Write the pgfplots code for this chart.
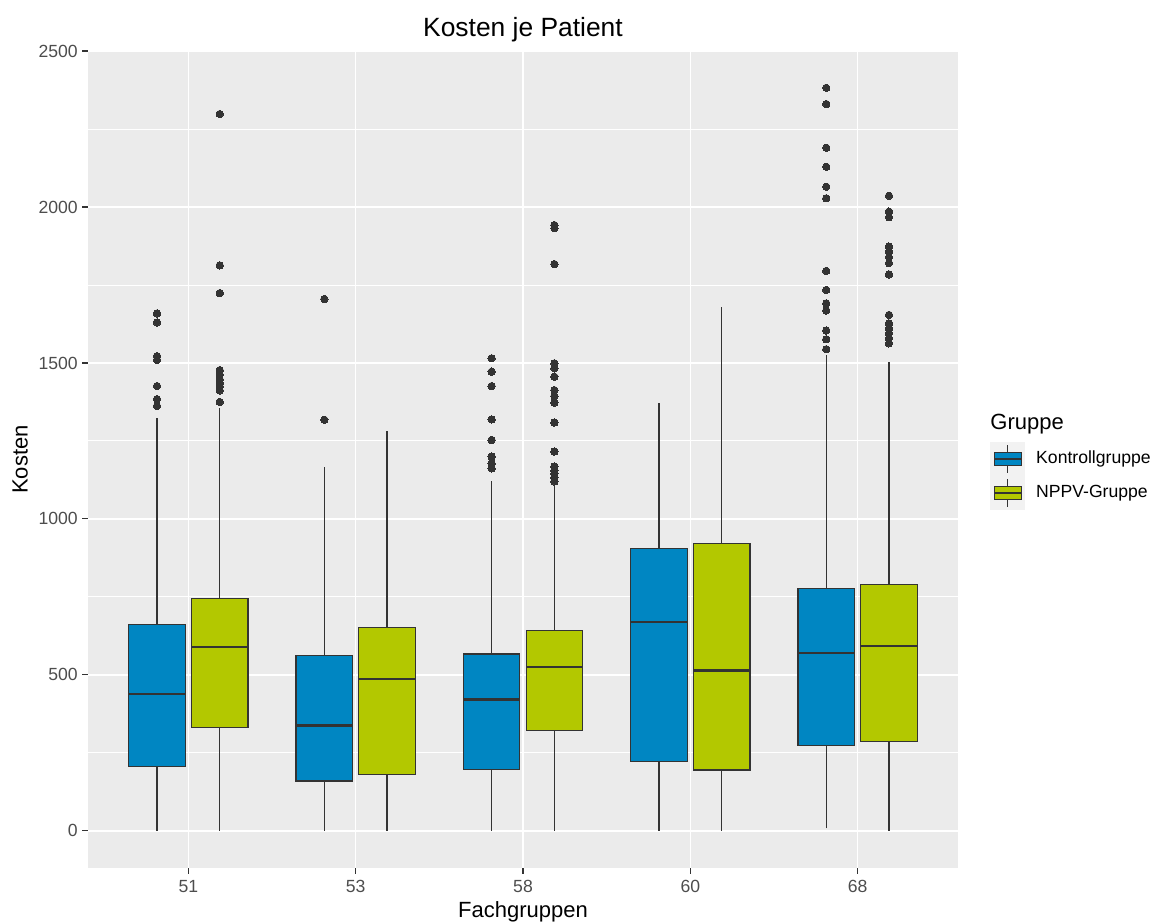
\documentclass[border=0pt]{standalone}
\usepackage{pgfplots}
\pgfplotsset{compat=1.18}
\usepackage{fontspec}
\setmainfont{Liberation Sans}
\definecolor{kblue}{RGB}{0,134,194}
\definecolor{nlime}{RGB}{179,200,0}
\definecolor{panelbg}{RGB}{235,235,235}
\definecolor{keybg}{RGB}{242,242,242}
\definecolor{c20}{RGB}{51,51,51}
\definecolor{c30}{RGB}{77,77,77}
\pgfplotsset{
  whisk/.style={c20, line width=0.6pt, no marks},
  boxK/.style={fill=kblue, draw=c20, line width=0.6pt, line cap=rect, line join=miter, no marks},
  boxN/.style={fill=nlime, draw=c20, line width=0.6pt, line cap=rect, line join=miter, no marks},
  med/.style={c20, line width=1.3pt, no marks},
  outl/.style={only marks, mark=*, mark size=1.85pt, mark options={fill=c20, draw=c20, line width=0pt}},
}
\begin{document}
\begin{tikzpicture}
\useasboundingbox (-44pt,-27.5pt) rectangle (533.5pt,434pt);
\begin{axis}[
  at={(0pt,0pt)}, anchor=south west,
  scale only axis, width=435pt, height=408.5pt,
  xmin=0.4, xmax=5.6, ymin=-119, ymax=2500,
  axis background/.style={fill=panelbg},
  axis line style={draw=none},
  xtick={1,2,3,4,5}, xticklabels={51,53,58,60,68},
  ytick={0,500,1000,1500,2000,2500},
  minor ytick={250,750,1250,1750,2250},
  xmajorgrids, ymajorgrids, yminorgrids,
  major grid style={white, line width=0.75pt},
  minor grid style={white, line width=0.45pt},
  tick align=outside, major tick length=2.75pt, minor tick length=0pt,
  xtick pos=bottom, ytick pos=left,
  every tick/.style={c20, line width=0.55pt},
  tick label style={font=\fontsize{8.8}{10}\selectfont, text=c30},
  yticklabel style={inner sep=0pt, xshift=-2.2pt},
  xticklabel style={inner sep=0pt, yshift=-3pt},
  /pgf/number format/assume math mode=true,
  /pgf/number format/1000 sep={},
  title={Kosten je Patient},
  every axis title/.style={at={(axis description cs:0.5,1.026)}, anchor=center, font=\fontsize{13.2}{15}\selectfont, inner sep=0pt},
  xlabel={Fachgruppen},
  ylabel={Kosten},
  every axis x label/.style={at={(axis description cs:0.5,-0.054)}, anchor=center, font=\fontsize{11}{13}\selectfont, inner sep=0pt},
  every axis y label/.style={at={(axis description cs:-0.078,0.5)}, rotate=90, anchor=center, font=\fontsize{11}{13}\selectfont, inner sep=0pt},
  legend style={at={(axis description cs:1.0368,0.5215)}, anchor=north west, draw=none, fill=none,
    inner sep=0pt, outer sep=0pt,
    font=\fontsize{8.8}{10}\selectfont, row sep=0pt, column sep=5.5pt,
    nodes={inner sep=0pt, outer sep=0pt, anchor=west}},
  legend cell align=left,
  clip=false,
]
% legend entries
\addlegendimage{legend image code/.code={
  \fill[keybg] (0pt,-8.3pt) rectangle (17.2pt,8.3pt);
  \draw[c20, line width=0.5pt] (8.6pt,-6.8pt) -- (8.6pt,6.8pt);
  \filldraw[fill=kblue, draw=c20, line width=0.5pt] (1.8pt,-3.3pt) rectangle (15.4pt,3.3pt);
  \draw[c20, line width=1pt] (1.8pt,0pt) -- (15.4pt,0pt);
}}
\addlegendentry{Kontrollgruppe}
\addlegendimage{legend image code/.code={
  \fill[keybg] (0pt,-8.3pt) rectangle (17.2pt,8.3pt);
  \draw[c20, line width=0.5pt] (8.6pt,-6.8pt) -- (8.6pt,6.8pt);
  \filldraw[fill=nlime, draw=c20, line width=0.5pt] (1.8pt,-3.3pt) rectangle (15.4pt,3.3pt);
  \draw[c20, line width=1pt] (1.8pt,0pt) -- (15.4pt,0pt);
}}
\addlegendentry{NPPV-Gruppe}

% ---- 51 Kontroll: lw 0, q1 206, med 439, q3 662, uw 1324
\addplot[whisk] coordinates {(0.8125,0) (0.8125,1324)};
\addplot[boxK] coordinates {(0.64375,206) (0.98125,206) (0.98125,662) (0.64375,662) (0.64375,206)};
\addplot[med] coordinates {(0.64375,439) (0.98125,439)};
\addplot[outl] coordinates {(0.8125,1659) (0.8125,1630) (0.8125,1522) (0.8125,1510) (0.8125,1426) (0.8125,1384) (0.8125,1362)};
% ---- 51 NPPV: 0, 331, 590, 744, 1356
\addplot[whisk] coordinates {(1.1875,0) (1.1875,1356)};
\addplot[boxN] coordinates {(1.01875,331) (1.35625,331) (1.35625,744) (1.01875,744) (1.01875,331)};
\addplot[med] coordinates {(1.01875,590) (1.35625,590)};
\addplot[outl] coordinates {(1.1875,2298) (1.1875,1813) (1.1875,1724) (1.1875,1477) (1.1875,1462) (1.1875,1447) (1.1875,1436) (1.1875,1425) (1.1875,1412) (1.1875,1375)};
% ---- 53 Kontroll: 0, 160, 338, 563, 1167
\addplot[whisk] coordinates {(1.8125,0) (1.8125,1167)};
\addplot[boxK] coordinates {(1.64375,160) (1.98125,160) (1.98125,563) (1.64375,563) (1.64375,160)};
\addplot[med] coordinates {(1.64375,338) (1.98125,338)};
\addplot[outl] coordinates {(1.8125,1705) (1.8125,1318)};
% ---- 53 NPPV: 0, 182, 487, 652, 1282
\addplot[whisk] coordinates {(2.1875,0) (2.1875,1282)};
\addplot[boxN] coordinates {(2.01875,182) (2.35625,182) (2.35625,652) (2.01875,652) (2.01875,182)};
\addplot[med] coordinates {(2.01875,487) (2.35625,487)};
% ---- 58 Kontroll: 0, 196, 421, 567, 1122
\addplot[whisk] coordinates {(2.8125,0) (2.8125,1122)};
\addplot[boxK] coordinates {(2.64375,196) (2.98125,196) (2.98125,567) (2.64375,567) (2.64375,196)};
\addplot[med] coordinates {(2.64375,421) (2.98125,421)};
\addplot[outl] coordinates {(2.8125,1515) (2.8125,1472) (2.8125,1426) (2.8125,1319) (2.8125,1253) (2.8125,1200) (2.8125,1178) (2.8125,1162)};
% ---- 58 NPPV: 0, 322, 525, 643, 1109
\addplot[whisk] coordinates {(3.1875,0) (3.1875,1109)};
\addplot[boxN] coordinates {(3.01875,322) (3.35625,322) (3.35625,643) (3.01875,643) (3.01875,322)};
\addplot[med] coordinates {(3.01875,525) (3.35625,525)};
\addplot[outl] coordinates {(3.1875,1942) (3.1875,1932) (3.1875,1817) (3.1875,1499) (3.1875,1483) (3.1875,1456) (3.1875,1413) (3.1875,1394) (3.1875,1373) (3.1875,1309) (3.1875,1216) (3.1875,1168) (3.1875,1155) (3.1875,1145) (3.1875,1133) (3.1875,1120)};
% ---- 60 Kontroll: 0, 223, 669, 905, 1371
\addplot[whisk] coordinates {(3.8125,0) (3.8125,1371)};
\addplot[boxK] coordinates {(3.64375,223) (3.98125,223) (3.98125,905) (3.64375,905) (3.64375,223)};
\addplot[med] coordinates {(3.64375,669) (3.98125,669)};
% ---- 60 NPPV: 0, 195, 515, 922, 1678
\addplot[whisk] coordinates {(4.1875,0) (4.1875,1678)};
\addplot[boxN] coordinates {(4.01875,195) (4.35625,195) (4.35625,922) (4.01875,922) (4.01875,195)};
\addplot[med] coordinates {(4.01875,515) (4.35625,515)};
% ---- 68 Kontroll: 8, 275, 570, 777, 1526
\addplot[whisk] coordinates {(4.8125,8) (4.8125,1526)};
\addplot[boxK] coordinates {(4.64375,275) (4.98125,275) (4.98125,777) (4.64375,777) (4.64375,275)};
\addplot[med] coordinates {(4.64375,570) (4.98125,570)};
\addplot[outl] coordinates {(4.8125,2382) (4.8125,2330) (4.8125,2190) (4.8125,2129) (4.8125,2065) (4.8125,2028) (4.8125,1795) (4.8125,1734) (4.8125,1691) (4.8125,1668) (4.8125,1604) (4.8125,1576) (4.8125,1544)};
% ---- 68 NPPV: 0, 286, 593, 790, 1503
\addplot[whisk] coordinates {(5.1875,0) (5.1875,1503)};
\addplot[boxN] coordinates {(5.01875,286) (5.35625,286) (5.35625,790) (5.01875,790) (5.01875,286)};
\addplot[med] coordinates {(5.01875,593) (5.35625,593)};
\addplot[outl] coordinates {(5.1875,2036) (5.1875,1985) (5.1875,1967) (5.1875,1873) (5.1875,1857) (5.1875,1839) (5.1875,1820) (5.1875,1784) (5.1875,1654) (5.1875,1627) (5.1875,1611) (5.1875,1595) (5.1875,1579) (5.1875,1563)};

\node[anchor=west, inner sep=0pt, font=\fontsize{11}{13}\selectfont] at (axis description cs:1.0368,0.5435) {Gruppe};
\end{axis}
\end{tikzpicture}
\end{document}
